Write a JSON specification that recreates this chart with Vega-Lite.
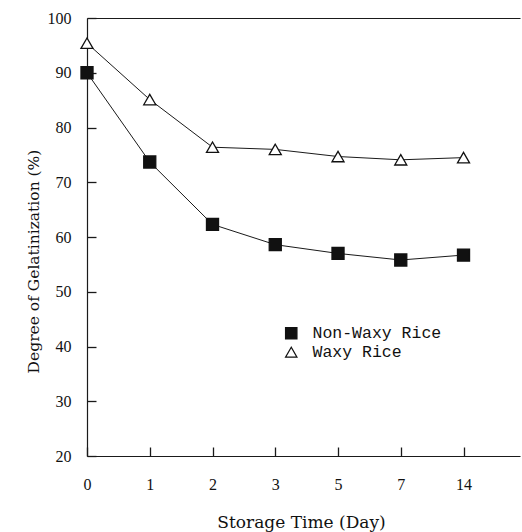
{
  "$schema": "https://vega.github.io/schema/vega-lite/v6.json",
  "width": 433,
  "height": 438,
  "autosize": "none",
  "padding": {"left": 87, "top": 18, "right": 2, "bottom": 76},
  "background": "white",
  "config": {
    "view": {"stroke": null},
    "axis": {
      "grid": false,
      "domainColor": "#1a1a1a",
      "tickColor": "#1a1a1a",
      "labelColor": "#111111",
      "titleColor": "#111111",
      "labelFont": "Liberation Serif",
      "labelFontSize": 16,
      "titleFont": "DejaVu Serif",
      "titleFontSize": 15.5,
      "titleFontWeight": "normal",
      "tickSize": -9,
      "tickWidth": 1.3,
      "domainWidth": 1.2
    }
  },
  "data": {
    "values": [
      {"day": "0", "series": "Non-Waxy Rice", "value": 90.0},
      {"day": "1", "series": "Non-Waxy Rice", "value": 73.7},
      {"day": "2", "series": "Non-Waxy Rice", "value": 62.3},
      {"day": "3", "series": "Non-Waxy Rice", "value": 58.6},
      {"day": "5", "series": "Non-Waxy Rice", "value": 57.0},
      {"day": "7", "series": "Non-Waxy Rice", "value": 55.8},
      {"day": "14", "series": "Non-Waxy Rice", "value": 56.7},
      {"day": "0", "series": "Waxy Rice", "value": 95.4},
      {"day": "1", "series": "Waxy Rice", "value": 85.1},
      {"day": "2", "series": "Waxy Rice", "value": 76.4},
      {"day": "3", "series": "Waxy Rice", "value": 76.0},
      {"day": "5", "series": "Waxy Rice", "value": 74.7},
      {"day": "7", "series": "Waxy Rice", "value": 74.1},
      {"day": "14", "series": "Waxy Rice", "value": 74.5}
    ]
  },
  "encoding": {
    "y": {
      "field": "value",
      "type": "quantitative",
      "scale": {"domain": [20, 100], "nice": false, "zero": false},
      "axis": {
        "values": [20, 30, 40, 50, 60, 70, 80, 90, 100],
        "title": "Degree of Gelatinization (%)",
        "labelPadding": 25,
        "ticks": true,
        "titleX": -54,
        "titleY": 243,
        "titleAlign": "center",
        "titleBaseline": "middle",
        "titleAngle": -90
      }
    }
  },
  "layer": [
    {
      "mark": {"type": "line", "color": "#1a1a1a", "strokeWidth": 1},
      "encoding": {
        "x": {
          "field": "day",
          "type": "ordinal",
          "sort": ["0", "1", "2", "3", "5", "7", "14"],
          "scale": {"type": "point", "padding": 0.45, "align": 0},
          "axis": {
            "orient": "bottom",
            "labelAngle": 0,
            "labelPadding": 29,
            "ticks": true,
            "title": "Storage Time (Day)",
            "titleFontSize": 17,
            "titleX": 214,
            "titleY": 66,
            "titleBaseline": "middle",
            "titleAlign": "center"
          }
        },
        "detail": {"field": "series"}
      }
    },
    {
      "mark": {"type": "point", "stroke": "#111111", "strokeWidth": 1.3, "opacity": 1, "size": 145},
      "encoding": {
        "x": {
          "field": "day",
          "type": "ordinal",
          "sort": ["0", "1", "2", "3", "5", "7", "14"],
          "axis": {"orient": "top", "labels": false, "ticks": false, "title": null, "domainWidth": 1}
        },
        "fill": {
          "field": "series",
          "type": "nominal",
          "scale": {"domain": ["Non-Waxy Rice", "Waxy Rice"], "range": ["#111111", "#ffffff"]},
          "legend": {
            "title": null,
            "orient": "none",
            "legendX": 196,
            "legendY": 307,
            "labelFont": "Liberation Mono",
            "labelFontSize": 16.5,
            "labelColor": "#111111",
            "labelOffset": 13,
            "rowPadding": 2,
            "symbolStrokeColor": "#111111",
            "symbolStrokeWidth": 1.2,
            "symbolSize": 130,
            "padding": 0
          }
        },
        "shape": {
          "field": "series",
          "type": "nominal",
          "scale": {"domain": ["Non-Waxy Rice", "Waxy Rice"], "range": ["square", "triangle-up"]}
        }
      }
    }
  ],
  "resolve": {"axis": {"x": "independent"}}
}
